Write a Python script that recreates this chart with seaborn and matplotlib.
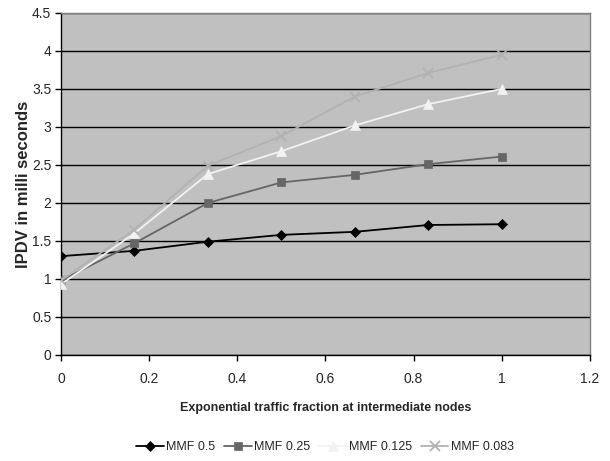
import numpy as np
import pandas as pd
import matplotlib
matplotlib.use("Agg")
import matplotlib.pyplot as plt
import seaborn as sns

x_vals = [0, 1/6, 1/3, 0.5, 2/3, 5/6, 1]
mmf_05 = [1.30, 1.37, 1.49, 1.58, 1.62, 1.71, 1.72]
mmf_025 = [0.98, 1.47, 2.00, 2.27, 2.37, 2.51, 2.61]
mmf_0125 = [0.93, 1.60, 2.38, 2.68, 3.02, 3.30, 3.50]
mmf_0083 = [0.98, 1.65, 2.49, 2.88, 3.40, 3.71, 3.95]
series_names = ["MMF 0.5", "MMF 0.25", "MMF 0.125", "MMF 0.083"]
x_ticks = [0, 0.2, 0.4, 0.6, 0.8, 1, 1.2]
x_tick_labels = ["0", "0.2", "0.4", "0.6", "0.8", "1", "1.2"]
y_ticks = [0, 0.5, 1, 1.5, 2, 2.5, 3, 3.5, 4, 4.5]
y_tick_labels = ["0", "0.5", "1", "1.5", "2", "2.5", "3", "3.5", "4", "4.5"]

rows = []
for name, vals in zip(series_names, [mmf_05, mmf_025, mmf_0125, mmf_0083]):
    for xv, yv in zip(x_vals, vals):
        rows.append({"x": xv, "y": yv, "series": name})
df = pd.DataFrame(rows)

sns.set_theme(style="white")
plt.rcParams['font.family'] = ['Liberation Sans', 'DejaVu Sans']

colors = {"MMF 0.5": "#000000", "MMF 0.25": "#666666",
          "MMF 0.125": "#f2f2f2", "MMF 0.083": "#b2b2b2"}
markers = {"MMF 0.5": "D", "MMF 0.25": "s", "MMF 0.125": "^", "MMF 0.083": "x"}
msizes = {"MMF 0.5": 5, "MMF 0.25": 6, "MMF 0.125": 7, "MMF 0.083": 7}

fig = plt.figure(figsize=(6.1, 4.61), dpi=100)
ax = fig.add_axes([0.1, 0.23, 0.867, 0.742])
ax.set_facecolor("#c0c0c0")

for name in series_names:
    sub = df[df.series == name]
    sns.lineplot(data=sub, x="x", y="y", ax=ax, color=colors[name],
                 marker=markers[name], markersize=msizes[name],
                 markeredgecolor=colors[name], markeredgewidth=1.3 if name == "MMF 0.083" else 0.5,
                 linewidth=1.3, label=name, zorder=3)

ax.set_xlim(0, 1.2)
ax.set_ylim(0, 4.5)
ax.set_xticks(x_ticks)
ax.set_xticklabels(x_tick_labels)
ax.set_yticks(y_ticks)
ax.set_yticklabels(y_tick_labels)
ax.yaxis.grid(True, color="#000000", linewidth=1.0, zorder=1)
ax.xaxis.grid(False)
ax.set_axisbelow(True)

for s in ["top", "right"]:
    ax.spines[s].set_color("#808080")
    ax.spines[s].set_linewidth(1.0)
for s in ["left", "bottom"]:
    ax.spines[s].set_color("#000000")
    ax.spines[s].set_linewidth(1.0)

ax.tick_params(axis="both", which="both", direction="out", length=4, width=1,
               color="#000000", labelsize=10, bottom=True, left=True, pad=3)
ax.tick_params(axis="x", pad=8)

ax.set_xlabel("Exponential traffic fraction at intermediate nodes", fontsize=9,
              fontweight="bold", labelpad=12)
ax.set_ylabel("IPDV in milli seconds", fontsize=12, fontweight="bold", labelpad=1)

ax.legend_.remove()
handles, labels = ax.get_legend_handles_labels()
fig.legend(handles, labels, loc="center", bbox_to_anchor=(0.533, 0.03), ncol=4,
           frameon=False, fontsize=9, handlelength=2.2, columnspacing=0.7,
           handletextpad=0.2)

fig.savefig("out.png", dpi=100)
